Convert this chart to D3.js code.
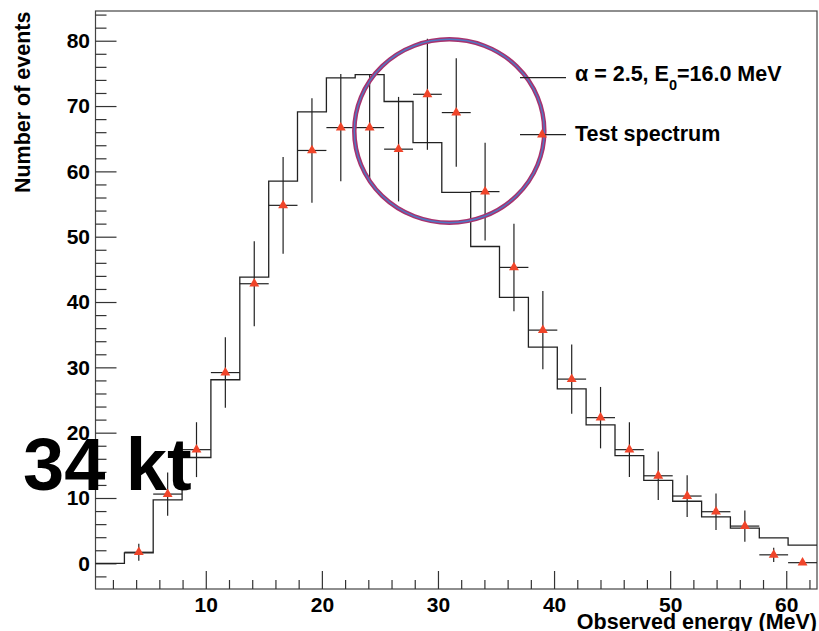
<!DOCTYPE html>
<html>
<head>
<meta charset="utf-8">
<script src="https://cdn.jsdelivr.net/npm/d3@7"></script>
<style>
  body { margin: 0; background: #fff; }
  svg { display: block; }
  text { font-family: "Liberation Sans", Arial, Helvetica, sans-serif; font-weight: bold; fill: #000; }
</style>
</head>
<body>
<svg id="chart" width="819" height="631"></svg>
<script>
// Energy bin edges (MeV)
const binEdges = [0.5, 2.99, 5.47, 7.96, 10.44, 12.93, 15.42, 17.90, 20.39, 22.87, 25.36,
  27.85, 30.33, 32.82, 35.30, 37.79, 40.28, 42.76, 45.25, 47.73, 50.22, 52.71, 55.19,
  57.68, 60.16, 62.65];
// Model spectrum: alpha = 2.5, E0 = 16.0 MeV
const modelCounts = [0, 1.6, 9.7, 16.2, 28.1, 43.8, 58.5, 69.1, 74.3, 74.8, 70.7, 64.4,
  56.8, 48.5, 40.7, 33.1, 26.7, 21.2, 16.5, 12.7, 9.5, 7.1, 5.4, 3.9, 2.8];
// Test spectrum and its statistical errors
const testCounts = [null, 1.7, 10.6, 17.4, 29.2, 42.8, 54.8, 63.2, 66.7, 66.7, 63.4, 71.8,
  69.0, 56.9, 45.3, 35.7, 28.2, 22.3, 17.4, 13.4, 10.3, 7.9, 5.7, 1.3, 0.1];
const testErrors = [0, 1.3, 3.3, 4.2, 5.4, 6.5, 7.4, 8.0, 8.2, 8.2, 8.0, 8.5,
  8.3, 7.5, 6.7, 6.0, 5.3, 4.7, 4.2, 3.7, 3.2, 2.8, 2.4, 1.1, 0.3];
// Axis ticks
const xMajorTicks = [10, 20, 30, 40, 50, 60];
const xMinorTicks = [2, 4, 6, 8, 12, 14, 16, 18, 22, 24, 26, 28, 32, 34, 36, 38, 42, 44, 46, 48,
  52, 54, 56, 58, 62];
const yMajorTicks = [0, 10, 20, 30, 40, 50, 60, 70, 80];
const yMinorTicks = [-2, 2, 4, 6, 8, 12, 14, 16, 18, 22, 24, 26, 28, 32, 34, 36, 38, 42, 44, 46, 48,
  52, 54, 56, 58, 62, 64, 66, 68, 72, 74, 76, 78, 82, 84];
const xTitle = "Observed energy (MeV)";
const yTitle = "Number of events";
const overlayLabel = "34 kt";

const svg = d3.select("#chart");
const frame = { left: 95.5, right: 817, top: 11, bottom: 589 };

const x = d3.scaleLinear().domain([0.5, 62.65]).range([frame.left, frame.right]);
const y = d3.scaleLinear().domain([-3.93, 84.55]).range([frame.bottom, frame.top]);

const axisColor = "#333";
const fontSize = 21;

// Frame
svg.append("rect")
  .attr("x", frame.left).attr("y", frame.top)
  .attr("width", frame.right - frame.left).attr("height", frame.bottom - frame.top)
  .attr("fill", "none").attr("stroke", "#444").attr("stroke-width", 1.2);

// Y axis: major and minor ticks pointing inward
const yMinor = svg.append("g").attr("transform", `translate(${frame.left},0)`)
  .call(d3.axisLeft(y).tickValues(yMinorTicks).tickSize(-11).tickFormat(""));
const yMajor = svg.append("g").attr("transform", `translate(${frame.left},0)`)
  .call(d3.axisLeft(y).tickValues(yMajorTicks).tickSize(-21).tickPadding(5.5));
// X axis
const xMinor = svg.append("g").attr("transform", `translate(0,${frame.bottom})`)
  .call(d3.axisBottom(x).tickValues(xMinorTicks).tickSize(-9).tickFormat(""));
const xMajor = svg.append("g").attr("transform", `translate(0,${frame.bottom})`)
  .call(d3.axisBottom(x).tickValues(xMajorTicks).tickSize(-18).tickPadding(8.3));

[yMinor, yMajor, xMinor, xMajor].forEach(g => {
  g.select(".domain").remove();
  g.selectAll(".tick line").attr("stroke", axisColor).attr("stroke-width", 1.2);
  g.selectAll("text")
    .attr("font-size", fontSize)
    .attr("font-family", '"Liberation Sans", Arial, sans-serif')
    .attr("font-weight", "bold").attr("fill", "#000");
});

// Model histogram (step line)
const stepPoints = modelCounts.map((c, i) => [binEdges[i], c]);
stepPoints.push([binEdges[binEdges.length - 1], modelCounts[modelCounts.length - 1]]);
svg.append("path")
  .attr("d", d3.line().x(d => x(d[0])).y(d => y(d[1])).curve(d3.curveStepAfter)(stepPoints))
  .attr("fill", "none").attr("stroke", "#222").attr("stroke-width", 1.3);

// Test spectrum points with error bars
const pts = testCounts.map((v, i) => ({ v, e: testErrors[i], lo: binEdges[i], hi: binEdges[i + 1] }))
  .filter(d => d.v !== null);
const errG = svg.append("g").attr("stroke", "#222").attr("stroke-width", 1.2);
errG.selectAll("line.h").data(pts).join("line").attr("class", "h")
  .attr("x1", d => x(d.lo)).attr("x2", d => x(d.hi))
  .attr("y1", d => y(d.v)).attr("y2", d => y(d.v));
errG.selectAll("line.v").data(pts.filter(d => d.e > 0)).join("line").attr("class", "v")
  .attr("x1", d => x((d.lo + d.hi) / 2)).attr("x2", d => x((d.lo + d.hi) / 2))
  .attr("y1", d => y(d.v - d.e)).attr("y2", d => y(d.v + d.e));

const markerColor = "#f0452a";
const tri = d3.symbol(d3.symbolTriangle, 42);
svg.append("g").selectAll("path").data(pts).join("path")
  .attr("transform", d => `translate(${x((d.lo + d.hi) / 2)},${y(d.v)})`)
  .attr("d", tri).attr("fill", markerColor);

// Axis titles
svg.append("text")
  .attr("transform", "translate(29.5,11.5) rotate(-90)")
  .attr("text-anchor", "end").attr("font-size", 21.5)
  .text(yTitle);
svg.append("text")
  .attr("x", 817).attr("y", 629).attr("text-anchor", "end").attr("font-size", 21.5)
  .text(xTitle);

// Highlight ellipse around the peak region
const ell = svg.append("g");
ell.append("ellipse").attr("cx", 449.3).attr("cy", 131).attr("rx", 95).attr("ry", 91.7)
  .attr("fill", "none").attr("stroke", "#a8326e").attr("stroke-width", 4.5);
ell.append("ellipse").attr("cx", 449.3).attr("cy", 131).attr("rx", 95).attr("ry", 91.7)
  .attr("fill", "none").attr("stroke", "#5078c4").attr("stroke-width", 1.4);

// Legend
const legend = svg.append("g");
legend.append("line").attr("x1", 520).attr("x2", 566).attr("y1", 77.7).attr("y2", 77.7)
  .attr("stroke", "#222").attr("stroke-width", 1.2);
const t1 = legend.append("text").attr("x", 575).attr("y", 80.5).attr("font-size", 21.5);
t1.append("tspan").text("\u03b1 = 2.5, E");
t1.append("tspan").attr("font-size", 14.5).attr("dy", 9).text("0");
t1.append("tspan").attr("dy", -9).text("=16.0 MeV");

legend.append("line").attr("x1", 520).attr("x2", 566).attr("y1", 134.7).attr("y2", 134.7)
  .attr("stroke", "#222").attr("stroke-width", 1.2);
legend.append("path").attr("transform", "translate(542,134.7)").attr("d", tri).attr("fill", markerColor);
legend.append("text").attr("x", 575).attr("y", 140.5).attr("font-size", 21.5)
  .text("Test spectrum");

// Detector mass label
svg.append("text").attr("x", 23).attr("y", 490).attr("font-size", 74)
  .text(overlayLabel);
</script>
</body>
</html>
